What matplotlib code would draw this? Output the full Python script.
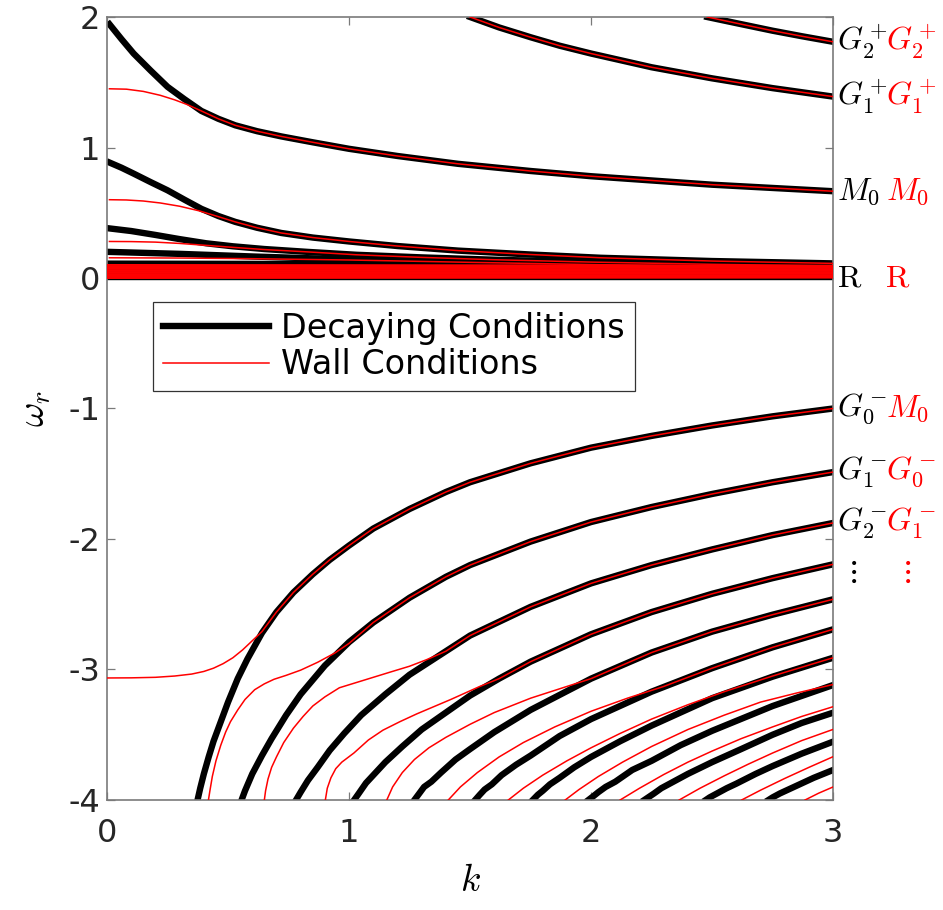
import matplotlib
matplotlib.use("Agg")
import matplotlib.pyplot as plt

plt.rcParams['mathtext.fontset'] = 'cm'
plt.rcParams['font.family'] = ['DejaVu Sans']
plt.rcParams['axes.unicode_minus'] = False

# ---- upper branches (omega_r > 0) ----
g2p_k = [2.48, 2.6, 2.75, 2.87, 3.0]
g2p_w = [2.0, 1.953, 1.895, 1.853, 1.81]

g1p_k = [1.5, 1.62, 1.75, 1.87, 2.0, 2.25, 2.5, 2.75, 3.0]
g1p_w = [2.0, 1.92, 1.845, 1.78, 1.72, 1.615, 1.53, 1.455, 1.39]

m0_dec_k = [0.01, 0.06, 0.11, 0.18, 0.25, 0.32, 0.39, 0.46, 0.53, 0.62, 0.72, 0.85, 1.0, 1.2, 1.45,
            1.75, 2.0, 2.5, 3.0]
m0_dec_w = [1.945, 1.83, 1.72, 1.59, 1.465, 1.37, 1.28, 1.22, 1.17, 1.125, 1.085, 1.04, 0.99, 0.935,
            0.875, 0.82, 0.78, 0.715, 0.665]
m0_wall_k = [0.01, 0.08, 0.15, 0.22, 0.28, 0.33, 0.39] + m0_dec_k[7:]
m0_wall_w = [1.45, 1.447, 1.43, 1.40, 1.365, 1.33, 1.28] + m0_dec_w[7:]

u2_dec_k = [0.01, 0.06, 0.11, 0.18, 0.25, 0.32, 0.39, 0.46, 0.53, 0.62, 0.72, 0.85, 1.0, 1.2, 1.45,
            1.75, 2.04, 2.5, 3.0]
u2_dec_w = [0.885, 0.845, 0.80, 0.735, 0.672, 0.60, 0.53, 0.475, 0.43, 0.385, 0.345, 0.31, 0.28,
            0.245, 0.21, 0.18, 0.155, 0.13, 0.112]
u2_wall_k = [0.01, 0.08, 0.15, 0.22, 0.3, 0.38, 0.46] + u2_dec_k[8:]
u2_wall_w = [0.60, 0.598, 0.59, 0.575, 0.55, 0.515, 0.47] + u2_dec_w[8:]

u3_dec_k = [0.01, 0.1, 0.2, 0.3, 0.41, 0.52, 0.65, 0.83, 1.03, 1.3, 1.6, 2.0, 2.5, 3.0]
u3_dec_w = [0.38, 0.36, 0.33, 0.298, 0.266, 0.243, 0.222, 0.20, 0.178, 0.158, 0.14, 0.122, 0.105, 0.092]
u3_wall_k = [0.01, 0.1, 0.2, 0.3, 0.41, 0.52, 0.65] + u3_dec_k[7:]
u3_wall_w = [0.28, 0.279, 0.275, 0.265, 0.25, 0.235, 0.218] + u3_dec_w[7:]

u4_dec_k = [0.01, 0.3, 0.6, 1.0, 1.5, 2.0, 2.5, 3.0]
u4_dec_w = [0.20, 0.185, 0.165, 0.142, 0.12, 0.103, 0.09, 0.08]
u4_wall_k = [0.01, 0.3, 0.6, 1.0] + u4_dec_k[4:]
u4_wall_w = [0.155, 0.153, 0.148, 0.138] + u4_dec_w[4:]

# densely packed low-frequency modes near zero (left / right end values)
band_dec_w0 = [0.11, 0.09, 0.07, 0.05, 0.03, 0.01]
band_dec_w1 = [0.10, 0.082, 0.064, 0.046, 0.028, 0.01]
band_wall_w0 = [0.10, 0.09, 0.08, 0.07, 0.06, 0.05, 0.04, 0.03, 0.02, 0.01, 0.0]
band_wall_w1 = [0.095, 0.086, 0.077, 0.068, 0.059, 0.05, 0.041, 0.032, 0.022, 0.012, 0.003]
band_k = [0.0, 3.0]

# ---- lower branches (omega_r < 0), decaying conditions ----
b1_k = [0.374, 0.385, 0.40, 0.42, 0.44, 0.47, 0.50, 0.54, 0.58, 0.64, 0.70, 0.77, 0.85, 0.92, 1.0,
        1.1, 1.25, 1.4, 1.5, 1.75, 2.0, 2.25, 2.5, 2.75, 3.0]
b1_w = [-4.0, -3.91, -3.80, -3.67, -3.55, -3.40, -3.25, -3.07, -2.92, -2.72, -2.56, -2.41, -2.27,
        -2.16, -2.05, -1.92, -1.77, -1.64, -1.565, -1.42, -1.30, -1.21, -1.13, -1.06, -1.0]
b2_k = [0.556, 0.57, 0.60, 0.64, 0.68, 0.74, 0.80, 0.9, 1.0, 1.1, 1.25, 1.4, 1.5, 1.75, 2.0, 2.25,
        2.5, 2.75, 3.0]
b2_w = [-4.0, -3.93, -3.80, -3.66, -3.53, -3.35, -3.19, -2.97, -2.79, -2.64, -2.45, -2.29, -2.20,
        -2.02, -1.87, -1.755, -1.655, -1.565, -1.487]
b3_k = [0.781, 0.80, 0.83, 0.87, 0.92, 0.98, 1.05, 1.15, 1.25, 1.4, 1.5, 1.75, 2.0, 2.25, 2.5, 2.75, 3.0]
b3_w = [-4.0, -3.94, -3.85, -3.75, -3.62, -3.49, -3.35, -3.19, -3.04, -2.86, -2.74, -2.52, -2.34,
        -2.20, -2.08, -1.97, -1.877]
b4_k = [1.021, 1.04, 1.07, 1.11, 1.15, 1.22, 1.3, 1.4, 1.5, 1.62, 1.75, 2.0, 2.25, 2.5, 2.75, 3.0]
b4_w = [-4.0, -3.95, -3.87, -3.79, -3.71, -3.59, -3.46, -3.33, -3.20, -3.07, -2.94, -2.73, -2.56,
        -2.42, -2.30, -2.194]
b5_k = [1.27, 1.29, 1.31, 1.34, 1.38, 1.44, 1.5, 1.6, 1.75, 2.0, 2.25, 2.5, 2.75, 3.0]
b5_w = [-4.0, -3.95, -3.90, -3.86, -3.79, -3.69, -3.61, -3.48, -3.31, -3.07, -2.87, -2.71, -2.58, -2.462]
b6_k = [1.521, 1.54, 1.56, 1.59, 1.63, 1.69, 1.75, 1.87, 2.0, 2.25, 2.5, 2.75, 3.0]
b6_w = [-4.0, -3.96, -3.92, -3.88, -3.81, -3.73, -3.66, -3.51, -3.38, -3.17, -2.99, -2.83, -2.692]
b7_k = [1.759, 1.78, 1.80, 1.83, 1.87, 1.93, 2.0, 2.12, 2.25, 2.5, 2.75, 3.0]
b7_w = [-4.0, -3.96, -3.93, -3.88, -3.83, -3.75, -3.67, -3.55, -3.43, -3.22, -3.055, -2.91]
b8_k = [1.989, 2.01, 2.03, 2.06, 2.1, 2.17, 2.25, 2.37, 2.5, 2.75, 3.0]
b8_w = [-4.0, -3.97, -3.94, -3.90, -3.86, -3.77, -3.70, -3.58, -3.47, -3.28, -3.119]
b9_k = [2.22, 2.24, 2.26, 2.29, 2.33, 2.4, 2.5, 2.62, 2.75, 2.87, 3.0]
b9_w = [-4.0, -3.975, -3.95, -3.91, -3.87, -3.80, -3.71, -3.61, -3.50, -3.41, -3.331]
b10_k = [2.474, 2.49, 2.52, 2.56, 2.6, 2.68, 2.75, 2.87, 3.0]
b10_w = [-4.0, -3.98, -3.95, -3.91, -3.875, -3.80, -3.74, -3.645, -3.553]
b11_k = [2.733, 2.75, 2.78, 2.85, 2.92, 3.0]
b11_w = [-4.0, -3.98, -3.95, -3.89, -3.83, -3.77]

# ---- lower branches, wall conditions ----
r1_k = [0.0, 0.1, 0.2, 0.28, 0.35, 0.40, 0.44, 0.48, 0.52, 0.56, 0.60, 0.64] + b1_k[10:]
r1_w = [-3.065, -3.064, -3.06, -3.05, -3.035, -3.015, -2.99, -2.955, -2.91, -2.85, -2.78,
        -2.71] + b1_w[10:]
r2_k = [0.419, 0.425, 0.435, 0.45, 0.47, 0.49, 0.51, 0.54, 0.57, 0.61, 0.65, 0.69, 0.74, 0.80,
        0.87, 0.94, 1.0, 1.05] + b2_k[9:]
r2_w = [-4.0, -3.93, -3.82, -3.70, -3.58, -3.48, -3.40, -3.31, -3.23, -3.155, -3.11, -3.075,
        -3.045, -3.005, -2.945, -2.875, -2.80, -2.72] + b2_w[9:]
r3_k = [0.65, 0.655, 0.665, 0.68, 0.70, 0.73, 0.77, 0.81, 0.85, 0.90, 0.96, 1.03, 1.10, 1.17, 1.25,
        1.32] + b3_k[9:]
r3_w = [-4.0, -3.93, -3.84, -3.75, -3.67, -3.56, -3.45, -3.36, -3.28, -3.21, -3.14, -3.10, -3.06,
        -3.02, -2.975, -2.925] + b3_w[9:]
r4_k = [0.902, 0.91, 0.925, 0.945, 0.97, 1.02, 1.08, 1.14, 1.21, 1.28, 1.35, 1.42, 1.48, 1.54,
        1.62] + b4_k[10:]
r4_w = [-4.0, -3.91, -3.83, -3.76, -3.71, -3.64, -3.54, -3.465, -3.40, -3.34, -3.285, -3.23, -3.18,
        -3.13, -3.07] + b4_w[10:]
r5_k = [1.156, 1.18, 1.22, 1.27, 1.33, 1.4, 1.5, 1.6, 1.75, 1.9, 2.0] + b5_k[10:]
r5_w = [-4.0, -3.90, -3.79, -3.69, -3.60, -3.52, -3.42, -3.33, -3.22, -3.13, -3.07] + b5_w[10:]
r6_k = [1.41, 1.46, 1.53, 1.62, 1.72, 1.85, 2.0, 2.15, 2.3, 2.5, 2.75, 3.0]
r6_w = [-4.0, -3.90, -3.79, -3.67, -3.56, -3.44, -3.32, -3.22, -3.13, -2.99, -2.83, -2.692]
r7_k = [1.658, 1.72, 1.8, 1.9, 2.0, 2.12, 2.25, 2.4, 2.55, 2.75, 3.0]
r7_w = [-4.0, -3.91, -3.81, -3.70, -3.60, -3.49, -3.38, -3.27, -3.17, -3.05, -2.91]
r8_k = [1.893, 1.95, 2.03, 2.13, 2.25, 2.4, 2.55, 2.7, 2.85, 3.0]
r8_w = [-4.0, -3.92, -3.82, -3.71, -3.59, -3.46, -3.35, -3.25, -3.18, -3.115]
r9_k = [2.12, 2.2, 2.3, 2.4, 2.5, 2.62, 2.75, 2.87, 3.0]
r9_w = [-4.0, -3.91, -3.805, -3.71, -3.625, -3.53, -3.44, -3.36, -3.285]
r10_k = [2.364, 2.45, 2.55, 2.65, 2.75, 2.87, 3.0]
r10_w = [-4.0, -3.91, -3.815, -3.725, -3.64, -3.545, -3.459]
r11_k = [2.622, 2.7, 2.8, 2.9, 3.0]
r11_w = [-4.0, -3.925, -3.835, -3.75, -3.668]
r12_k = [2.884, 2.94, 3.0]
r12_w = [-4.0, -3.948, -3.90]

# mode names written beside the right axis: (omega at k=3, decaying, wall)
mode_w = [1.81, 1.39, 0.665, -1.0, -1.487, -1.877]
mode_dec = [r'$G_2^+$', r'$G_1^+$', r'$M_0$', r'$G_0^-$', r'$G_1^-$', r'$G_2^-$']
mode_wall = [r'$G_2^+$', r'$G_1^+$', r'$M_0$', r'$M_0$', r'$G_0^-$', r'$G_1^-$']

dec_curves = [(g2p_k, g2p_w), (g1p_k, g1p_w), (m0_dec_k, m0_dec_w), (u2_dec_k, u2_dec_w),
              (u3_dec_k, u3_dec_w), (u4_dec_k, u4_dec_w),
              (b1_k, b1_w), (b2_k, b2_w), (b3_k, b3_w), (b4_k, b4_w), (b5_k, b5_w), (b6_k, b6_w),
              (b7_k, b7_w), (b8_k, b8_w), (b9_k, b9_w), (b10_k, b10_w), (b11_k, b11_w)]
wall_curves = [(g2p_k, g2p_w), (g1p_k, g1p_w), (m0_wall_k, m0_wall_w), (u2_wall_k, u2_wall_w),
               (u3_wall_k, u3_wall_w), (u4_wall_k, u4_wall_w),
               (r1_k, r1_w), (r2_k, r2_w), (r3_k, r3_w), (r4_k, r4_w), (r5_k, r5_w), (r6_k, r6_w),
               (r7_k, r7_w), (r8_k, r8_w), (r9_k, r9_w), (r10_k, r10_w), (r11_k, r11_w), (r12_k, r12_w)]

fig = plt.figure(figsize=(9.43, 9.10), dpi=100)
ax = fig.add_axes([0.1135, 0.1209, 0.77, 0.8604])

lw_dec = 4.6
lw_wall = 1.1

for i, (k, w) in enumerate(dec_curves):
    ax.plot(k, w, color='k', lw=lw_dec, zorder=2, solid_joinstyle='round',
            label='Decaying Conditions' if i == 0 else None)
for w0, w1 in zip(band_dec_w0, band_dec_w1):
    ax.plot(band_k, [w0, w1], color='k', lw=lw_dec, zorder=2)

for i, (k, w) in enumerate(wall_curves):
    ax.plot(k, w, color='r', lw=lw_wall, zorder=3,
            label='Wall Conditions' if i == 0 else None)
for w0, w1 in zip(band_wall_w0, band_wall_w1):
    ax.plot(band_k, [w0, w1], color='r', lw=1.4, zorder=3)

ax.set_xlim(0, 3)
ax.set_ylim(-4, 2)
ax.set_xticks([0, 1, 2, 3])
ax.set_xticklabels(['0', '1', '2', '3'])
ax.set_yticks([-4, -3, -2, -1, 0, 1, 2])
ax.set_yticklabels(['-4', '-3', '-2', '-1', '0', '1', '2'])
ax.tick_params(direction='in', top=True, right=True, length=6, width=0.9,
               color='#7a7a7a', labelsize=23, labelcolor='#262626')
ax.tick_params(axis='x', pad=13)
ax.tick_params(axis='y', pad=5)
for s in ax.spines.values():
    s.set_color('#7a7a7a')
    s.set_linewidth(1.2)

ax.set_xlabel(r'$k$', fontsize=27, labelpad=10)
ax.set_ylabel(r'$\omega_r$', fontsize=27, labelpad=11)

# mode names at the right edge
for w, a, b in zip(mode_w, mode_dec, mode_wall):
    ax.annotate(a, xy=(3, w), xytext=(4, 0), textcoords='offset pixels',
                ha='left', va='center', fontsize=23, color='k', annotation_clip=False)
    ax.annotate(b, xy=(3, w), xytext=(53, 0), textcoords='offset pixels',
                ha='left', va='center', fontsize=23, color='r', annotation_clip=False)
ax.annotate(r'$\mathrm{R}$', xy=(3, 0.0), xytext=(4, 0), textcoords='offset pixels',
            ha='left', va='center', fontsize=23, color='k', annotation_clip=False)
ax.annotate(r'$\mathrm{R}$', xy=(3, 0.0), xytext=(52, 0), textcoords='offset pixels',
            ha='left', va='center', fontsize=23, color='r', annotation_clip=False)
ax.annotate(r'$\vdots$', xy=(3, -2.25), xytext=(18, 0), textcoords='offset pixels',
            ha='center', va='center', fontsize=23, color='k', annotation_clip=False)
ax.annotate(r'$\vdots$', xy=(3, -2.25), xytext=(72, 0), textcoords='offset pixels',
            ha='center', va='center', fontsize=23, color='r', annotation_clip=False)

leg = ax.legend(loc='upper left', bbox_to_anchor=(0.063, 0.636), fontsize=24,
                frameon=True, fancybox=False, framealpha=1, edgecolor='#333333',
                handlelength=3.2, borderaxespad=0, borderpad=0.3, labelspacing=0.1,
                handletextpad=0.35)
leg.get_frame().set_linewidth(0.9)

fig.savefig('out.png', dpi=100)
